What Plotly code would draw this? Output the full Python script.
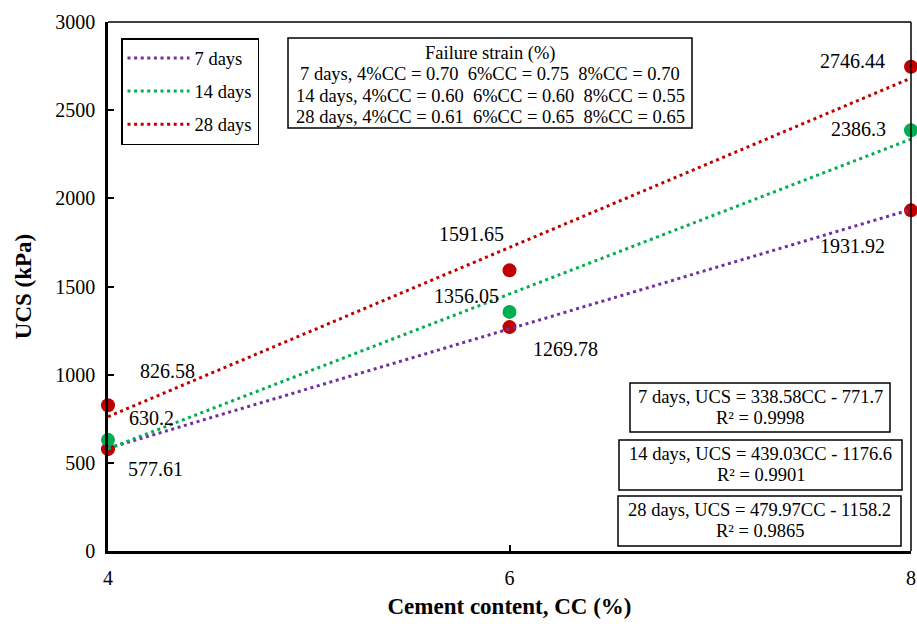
import plotly.graph_objects as go

# ---------------- data ----------------
cement_content = [4, 6, 8]
ucs_7 = [577.61, 1269.78, 1931.92]
ucs_14 = [630.2, 1356.05, 2386.3]
ucs_28 = [826.58, 1591.65, 2746.44]

series_names = ["7 days", "14 days", "28 days"]
fit_slopes = [338.58, 439.03, 479.97]
fit_intercepts = [-771.7, -1176.6, -1158.2]
fit_r2 = ["0.9998", "0.9901", "0.9865"]
fit_x = [4, 8]

strain_title = "Failure strain (%)"
strain_lines = [
    "7 days, 4%CC = 0.70  6%CC = 0.75  8%CC = 0.70",
    "14 days, 4%CC = 0.60  6%CC = 0.60  8%CC = 0.55",
    "28 days, 4%CC = 0.61  6%CC = 0.65  8%CC = 0.65",
]

x_ticks = [4, 6, 8]
y_ticks = [0, 500, 1000, 1500, 2000, 2500, 3000]

# ---------------- styles ----------------
FONT = "Liberation Serif, Times New Roman, DejaVu Serif, serif"
RED = "#C00000"
GREEN = "#00B050"
PURPLE = "#7030A0"
marker_colors = [RED, GREEN, RED]
line_colors = [PURPLE, GREEN, RED]

W, H = 917, 624
L, R, T, B = 108, 6, 22, 73
PW, PH = W - L - R, H - T - B


def px_x(p):
    return (p - L) / PW


def px_y(p):
    return (H - B - p) / PH


fig = go.Figure()

values = [ucs_7, ucs_14, ucs_28]

# markers first (lines are drawn over them)
for vals, col in zip(values, marker_colors):
    fig.add_trace(go.Scatter(
        x=cement_content, y=vals, mode="markers",
        marker=dict(size=14, color=col, line=dict(width=0)),
        showlegend=False, cliponaxis=False, hoverinfo="x+y",
    ))

# trend lines
for name, m, c, col in zip(series_names, fit_slopes, fit_intercepts, line_colors):
    fig.add_trace(go.Scatter(
        x=fit_x, y=[m * xv + c for xv in fit_x], mode="lines",
        line=dict(color=col, width=3, dash="3px,3.6px"),
        name=name, legendgroup=name, cliponaxis=False,
    ))

# data labels (offsets in pixels)
label_offsets = [
    [(47, -20), (56, -22), (-59, -36)],   # 7 days
    [(43, 22), (-43, 16), (-53, 1)],      # 14 days
    [(59, 34), (-38, 36), (-59, 6)],      # 28 days
]
for vals, offs in zip(values, label_offsets):
    for xv, yv, (dx, dy) in zip(cement_content, vals, offs):
        fig.add_annotation(
            x=xv, y=yv, xref="x", yref="y", text=f"{yv:g}",
            showarrow=False, xshift=dx, yshift=dy,
            font=dict(family=FONT, size=20, color="black"),
        )

# failure strain box
fig.add_shape(type="rect", xref="paper", yref="paper",
              x0=px_x(288), x1=px_x(692), y0=px_y(128), y1=px_y(38),
              line=dict(color="black", width=1.5), fillcolor="white", layer="below")
for txt, yc in zip([strain_title] + strain_lines, [53, 74.5, 96, 117.5]):
    fig.add_annotation(x=px_x(490), y=px_y(yc), xref="paper", yref="paper",
                       text=txt, showarrow=False, xanchor="center", yanchor="middle",
                       font=dict(family=FONT, size=18.5, color="black"))

# equation boxes
eq_boxes = [(630, 890, 383, 432), (619, 902, 440, 490), (618, 901, 496, 546)]
for name, m, c, r2, (x0, x1, y0, y1) in zip(series_names, fit_slopes, fit_intercepts, fit_r2, eq_boxes):
    fig.add_shape(type="rect", xref="paper", yref="paper",
                  x0=px_x(x0), x1=px_x(x1), y0=px_y(y1), y1=px_y(y0),
                  line=dict(color="black", width=1.5), fillcolor="white", layer="below")
    xc = (x0 + x1) / 2
    fig.add_annotation(x=px_x(xc), y=px_y(y0 + 14), xref="paper", yref="paper",
                       text=f"{name}, UCS = {m:.2f}CC - {abs(c):g}", showarrow=False,
                       xanchor="center", yanchor="middle",
                       font=dict(family=FONT, size=18.5, color="black"))
    fig.add_annotation(x=px_x(xc), y=px_y(y0 + 35), xref="paper", yref="paper",
                       text=f"R² = {r2}", showarrow=False,
                       xanchor="center", yanchor="middle",
                       font=dict(family=FONT, size=18.5, color="black"))

# top and right frame lines
fig.add_shape(type="line", xref="paper", yref="paper", x0=0, x1=1, y0=1, y1=1,
              line=dict(color="black", width=1.5))
fig.add_shape(type="line", xref="paper", yref="paper", x0=1, x1=1, y0=0, y1=1,
              line=dict(color="black", width=1.5))

fig.update_layout(
    width=W, height=H,
    margin=dict(l=L, r=R, t=T, b=B, pad=0, autoexpand=False),
    paper_bgcolor="white", plot_bgcolor="white",
    font=dict(family=FONT, color="black"),
    showlegend=True,
    legend=dict(
        x=px_x(121), y=px_y(38), xanchor="left", yanchor="top",
        bgcolor="white", bordercolor="black", borderwidth=1.5,
        font=dict(family=FONT, size=18.5, color="black"),
        tracegroupgap=6, itemwidth=62,
    ),
    xaxis=dict(
        range=[4, 8], tickvals=x_ticks, ticktext=[str(v) for v in x_ticks],
        ticks="inside", ticklen=6, tickwidth=1.5, tickcolor="black",
        showline=True, linecolor="black", linewidth=2.5, showgrid=False, zeroline=False,
        tickfont=dict(family=FONT, size=20, color="black"),
        ticklabelstandoff=7, automargin=False,
        title=dict(text="<b>Cement content, CC (%)</b>", standoff=11,
                   font=dict(family=FONT, size=23, color="black")),
    ),
    yaxis=dict(
        range=[0, 3000], tickvals=y_ticks, ticktext=[str(v) for v in y_ticks],
        ticks="inside", ticklen=6, tickwidth=1.5, tickcolor="black",
        showline=True, linecolor="black", linewidth=2.5, showgrid=False, zeroline=False,
        tickfont=dict(family=FONT, size=20, color="black"),
        ticklabelstandoff=6, automargin=False,
        title=dict(text="<b>UCS (kPa)</b>", standoff=18,
                   font=dict(family=FONT, size=23, color="black")),
    ),
)

fig.write_html("out.html")
